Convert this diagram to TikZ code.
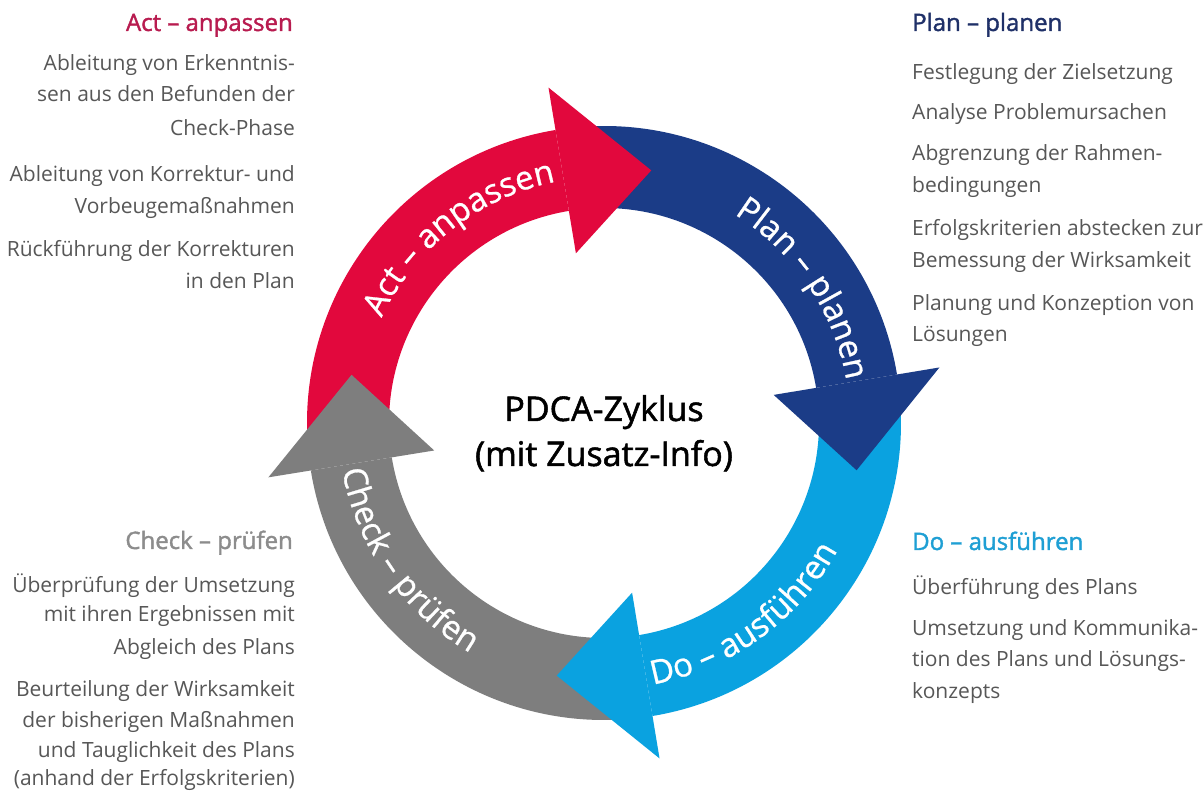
\documentclass[tikz,border=0pt]{standalone}
\usepackage{fontspec}
\setmainfont{Open Sans}
\newfontfamily\pdcaSemi{Open Sans}[FakeBold=1.5]
\newfontfamily\pdcaMedium{Open Sans}[FakeBold=0.8]
\usetikzlibrary{decorations.text}

\definecolor{actred}{HTML}{E2083D}
\definecolor{planblue}{HTML}{1B3C87}
\definecolor{doblue}{HTML}{0AA2E0}
\definecolor{checkgray}{HTML}{7E7E7E}
\definecolor{acthead}{HTML}{B81B4F}
\definecolor{planhead}{HTML}{1F3068}
\definecolor{dohead}{HTML}{1E9FD4}
\definecolor{checkhead}{HTML}{8C8C8C}
\definecolor{bodygray}{HTML}{575757}

\newcommand\pdcaBody{\fontsize{21}{25}\selectfont}
\newcommand\pdcaHead{\pdcaSemi\fontsize{24}{28}\selectfont}
\newcommand\pdcaTitle{\pdcaSemi\fontsize{34}{40}\selectfont}
\newcommand\pdcaRing{\pdcaMedium\fontsize{33}{40}\selectfont\color{white}}

\tikzset{
  bodyR/.style={anchor=base east, inner sep=0pt, font=\pdcaBody, text=bodygray},
  bodyL/.style={anchor=base west, inner sep=0pt, font=\pdcaBody, text=bodygray},
  headR/.style={anchor=base east, inner sep=0pt, font=\pdcaHead},
  headL/.style={anchor=base west, inner sep=0pt, font=\pdcaHead},
  titleline/.style={anchor=base, inner sep=0pt, font=\pdcaTitle, text=black},
}

\begin{document}
\begin{tikzpicture}[x=1pt,y=1pt]
\useasboundingbox (0,0) rectangle (1203,792);
\fill[white] (0,0) rectangle (1203,792);

% ---- ring of four arrows, centred on the cycle ----
\begin{scope}[shift={(604,369)}]
  % arrow bodies (each starts under the head of the previous arrow)
  \foreach \b/\col in {99.4/actred, 9.4/planblue, -80.6/doblue, -170.8/checkgray} {
    \fill[\col] ({\b+85}:297) arc[start angle={\b+85}, end angle=\b, radius=297]
      -- (\b:215) arc[start angle=\b, end angle={\b+85}, radius=215] -- cycle;
  }
  % arrow heads, pointing clockwise
  \foreach \b/\col in {99.4/actred, 9.4/planblue, -80.6/doblue, -170.8/checkgray} {
    \fill[\col] (\b:340) -- ({\b-20}:257) -- (\b:172) -- cycle;
  }

  % labels set along the ring
  \path[decorate, decoration={text along path, text align=center,
      text={|\pdcaRing|Act – anpassen}}]
    (168:246) arc[start angle=168, end angle=88, radius=246];
  \path[decorate, decoration={text along path, text align=center,
      text={|\pdcaRing|Plan – planen}}]
    (74:246) arc[start angle=74, end angle=-6, radius=246];
  \path[decorate, decoration={text along path, text align=center,
      text={|\pdcaRing|Do – ausführen}}]
    (-94:266) arc[start angle=-94, end angle=-14, radius=266];
  \path[decorate, decoration={text along path, text align=center,
      text={|\pdcaRing|Check – prüfen}}]
    (175:266) arc[start angle=175, end angle=255, radius=266];

  % centre title
  \node[titleline] (title1) at (0,2) {PDCA-Zyklus};
  \node[titleline] (title2) at (0,-43) {(mit Zusatz-Info)};
\end{scope}

% ---- Act (top left) ----
\node[headR, text=acthead] (acthead) at (293,761) {Act – anpassen};
\foreach \txt/\yy [count=\i] in {
  Ableitung von Erkenntnis-/721.5,
  sen aus den Befunden der/690,
  Check-Phase/656,
  Ableitung von Korrektur- und/610,
  Vorbeugemaßnahmen/578.5,
  Rückführung der Korrekturen/535.5,
  in den Plan/503.5}
  \node[bodyR] (act-\i) at (295,\yy) {\txt};

% ---- Plan (top right) ----
\node[headL, text=planhead] (planhead) at (912,761) {Plan – planen};
\foreach \txt/\yy [count=\i] in {
  Festlegung der Zielsetzung/712,
  Analyse Problemursachen/672,
  Abgrenzung der Rahmen-/631,
  bedingungen/599,
  Erfolgskriterien abstecken zur/556,
  Bemessung der Wirksamkeit/524,
  Planung und Konzeption von/481,
  Lösungen/450}
  \node[bodyL] (plan-\i) at (912,\yy) {\txt};

% ---- Check (bottom left) ----
\node[headR, text=checkhead] (checkhead) at (293,243) {Check – prüfen};
\foreach \txt/\yy [count=\i] in {
  Überprüfung der Umsetzung/199,
  mit ihren Ergebnissen mit/170,
  Abgleich des Plans/137,
  Beurteilung der Wirksamkeit/95,
  der bisherigen Maßnahmen/64,
  und Tauglichkeit des Plans/34,
  (anhand der Erfolgskriterien)/6}
  \node[bodyR] (check-\i) at (295,\yy) {\txt};

% ---- Do (bottom right) ----
\node[headL, text=dohead] (dohead) at (912,242) {Do – ausführen};
\foreach \txt/\yy [count=\i] in {
  Überführung des Plans/197,
  Umsetzung und Kommunika-/156,
  tion des Plans und Lösungs-/125,
  konzepts/93}
  \node[bodyL] (do-\i) at (912,\yy) {\txt};
\end{tikzpicture}
\end{document}
